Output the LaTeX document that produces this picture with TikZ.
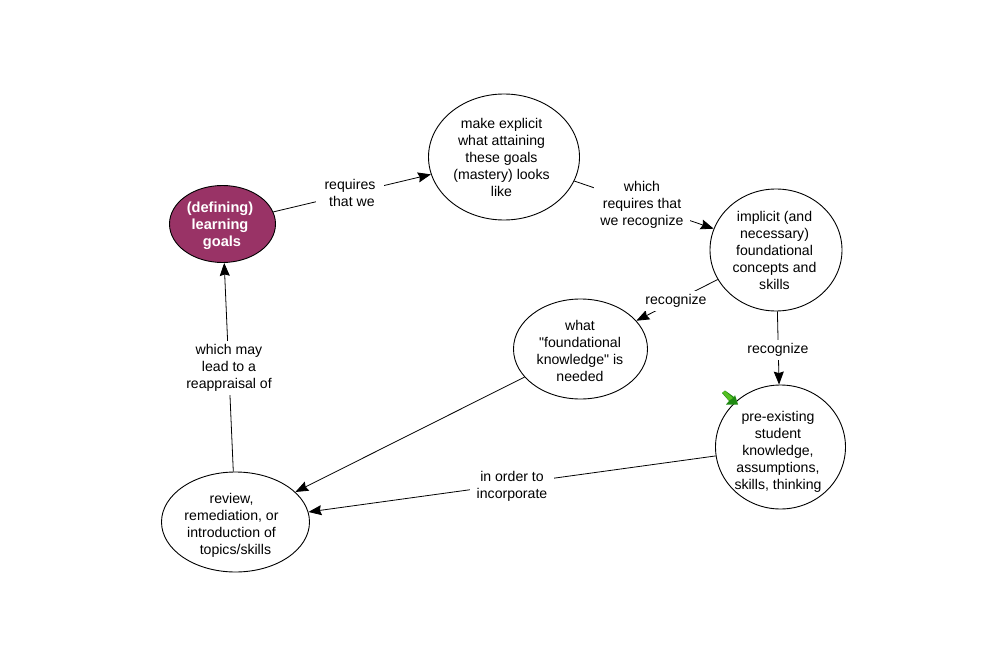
\documentclass[tikz,border=0pt]{standalone}
\usepackage{fontspec}
\newfontfamily\libsans{Liberation Sans}
\usetikzlibrary{shapes.geometric,arrows.meta}
\definecolor{goalfill}{HTML}{993366}
\definecolor{greenlight}{HTML}{55C022}
\definecolor{greendark}{HTML}{1F8A12}
\tikzset{
  concept/.style={draw=black,line width=0.9pt,ellipse,inner sep=0pt,fill=white},
  txt/.style={align=center,font=\libsans\fontsize{14.1}{17}\selectfont,text=black,inner sep=0pt},
  conn/.style={draw=black,line width=0.8pt,-{Stealth[length=13pt,width=10pt,inset=1.5pt]}},
  lab/.style={txt,fill=white,inner xsep=6pt,inner ysep=3.5pt}
}
\begin{document}
\begin{tikzpicture}[x=1pt,y=-1pt]
\useasboundingbox (0,0) rectangle (1007,666);
\fill[white] (0,0) rectangle (1007,666);
\node[concept,fill=goalfill,minimum width=106pt,minimum height=77pt] (goals) at (222.5,224) {};
\node[concept,minimum width=151pt,minimum height=126pt] (explicit) at (504,157) {};
\node[concept,minimum width=132pt,minimum height=122pt] (implicit) at (776,250) {};
\node[concept,minimum width=134pt,minimum height=100pt] (what) at (580.5,349) {};
\node[concept,minimum width=130pt,minimum height=124pt] (pre) at (780.5,447) {};
\node[concept,minimum width=148pt,minimum height=100pt] (review) at (235.5,522) {};

\draw[conn] (goals) -- (explicit);
\draw[conn] (explicit) -- (implicit);
\draw[conn] (implicit) -- (what);
\draw[conn] (implicit) -- (pre);
\draw[conn] (pre) -- (review);
\draw[conn] (what) -- (review);
\draw[conn] (review) -- (goals);

\node[txt,text=white,font=\libsans\fontsize{14.6}{17}\selectfont\bfseries] (goalsT) at (220,226) {(defining)\\learning\\\ goals};
\node[txt] (explicitT) at (501.5,157.5) {make explicit\\what attaining\\these goals\\(mastery) looks\\like};
\node[txt] (implicitT) at (774.5,250) {implicit (and\\necessary)\\foundational\\concepts and\\skills};
\node[txt] (whatT) at (580,351) {what\\"foundational\\knowledge" is\\needed};
\node[txt] (preT) at (778,452) {pre-existing\\student\\knowledge,\\assumptions,\\skills, thinking};
\node[txt] (reviewT) at (231.5,525) {review,\\remediation, or\\introduction of\\\ \ topics/skills};

\node[lab,inner xsep=9pt] (l1) at (350,193) {requires\\\ that we};
\node[lab] (l2) at (642,205) {which\\requires that\\we recognize};
\node[lab] (l3) at (676,301) {recognize};
\node[lab] (l4) at (778,350) {recognize};
\node[lab,inner xsep=7pt] (l5) at (512,486) {in order to\\incorporate};
\node[lab] (l6) at (229,368) {which may\\lead to a\\reappraisal of};

\fill[greendark] (722,393) -- (725,390.5) -- (734,397) -- (735,395) -- (738,404.5) -- (726,404.5) -- (729,401) -- cycle;
\fill[greenlight] (722.5,392.5) -- (725,391) -- (733,398) -- (729,400.5) -- cycle;
\end{tikzpicture}
\end{document}
